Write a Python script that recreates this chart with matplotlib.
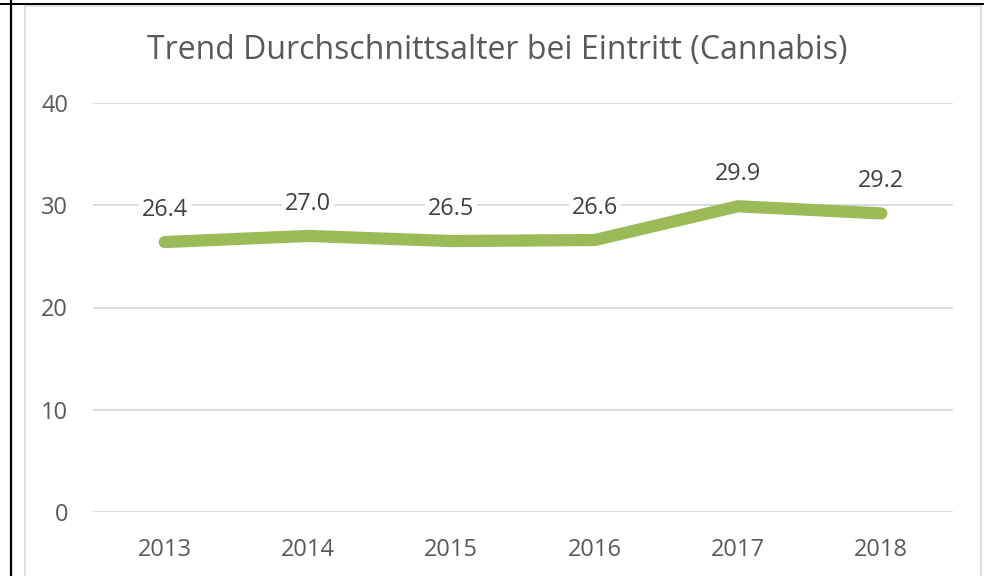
import matplotlib.pyplot as plt
from matplotlib.lines import Line2D
from matplotlib.patches import Rectangle

# Daten
jahre = ['2013', '2014', '2015', '2016', '2017', '2018']
alter = [26.4, 27.0, 26.5, 26.6, 29.9, 29.2]
y_ticks = [0, 10, 20, 30, 40]

plt.rcParams['font.family'] = ['Open Sans', 'DejaVu Sans']


def main():
    fig = plt.figure(figsize=(9.91, 5.76), dpi=100)

    # Rahmen des Diagramms (hellgrau) und schwarze Zellränder
    fig.patches.append(Rectangle((25 / 991, -0.1), 956 / 991, 1 - 5.5 / 576 + 0.1,
                                 transform=fig.transFigure, fill=False,
                                 edgecolor='#d9d9d9', linewidth=1.2))
    fig.lines.append(Line2D([10.5 / 991, 10.5 / 991], [0, 1], transform=fig.transFigure,
                            color='black', linewidth=1.6))
    fig.lines.append(Line2D([0, 983 / 991], [1 - 4 / 576, 1 - 4 / 576], transform=fig.transFigure,
                            color='black', linewidth=1.4))

    ax = fig.add_axes([93 / 991, 64 / 576, 860 / 991, 409 / 576])
    x = range(len(jahre))
    ax.plot(x, alter, color='#9bbb59', linewidth=8.8, solid_capstyle='round',
            solid_joinstyle='miter', zorder=3)

    for xi, v in zip(x, alter):
        ax.annotate('%.1f' % v, (xi, v), xytext=(0, 23), textcoords='offset points',
                    ha='center', va='center', fontsize=16.8, color='#404040',
                    bbox=dict(facecolor='white', edgecolor='none', pad=2), zorder=4)

    ax.set_xlim(-0.5, len(jahre) - 0.5)
    ax.set_ylim(0, 40)
    ax.set_xticks(list(x))
    ax.set_xticklabels(jahre)
    ax.set_yticks(y_ticks)
    ax.grid(axis='y', color='#d9d9d9', linewidth=1.3, zorder=0)
    ax.set_axisbelow(True)
    for s in ax.spines.values():
        s.set_visible(False)
    ax.tick_params(length=0, labelsize=17, labelcolor='#595959')
    ax.tick_params(axis='x', pad=18.5)
    ax.tick_params(axis='y', pad=18)

    fig.text(0.5 + 2 / 991, 1 - 50 / 576, 'Trend Durchschnittsalter bei Eintritt (Cannabis)',
             ha='center', va='center', fontsize=23, color='#595959')

    plt.savefig('out.png', dpi=100)


if __name__ == '__main__':
    main()
